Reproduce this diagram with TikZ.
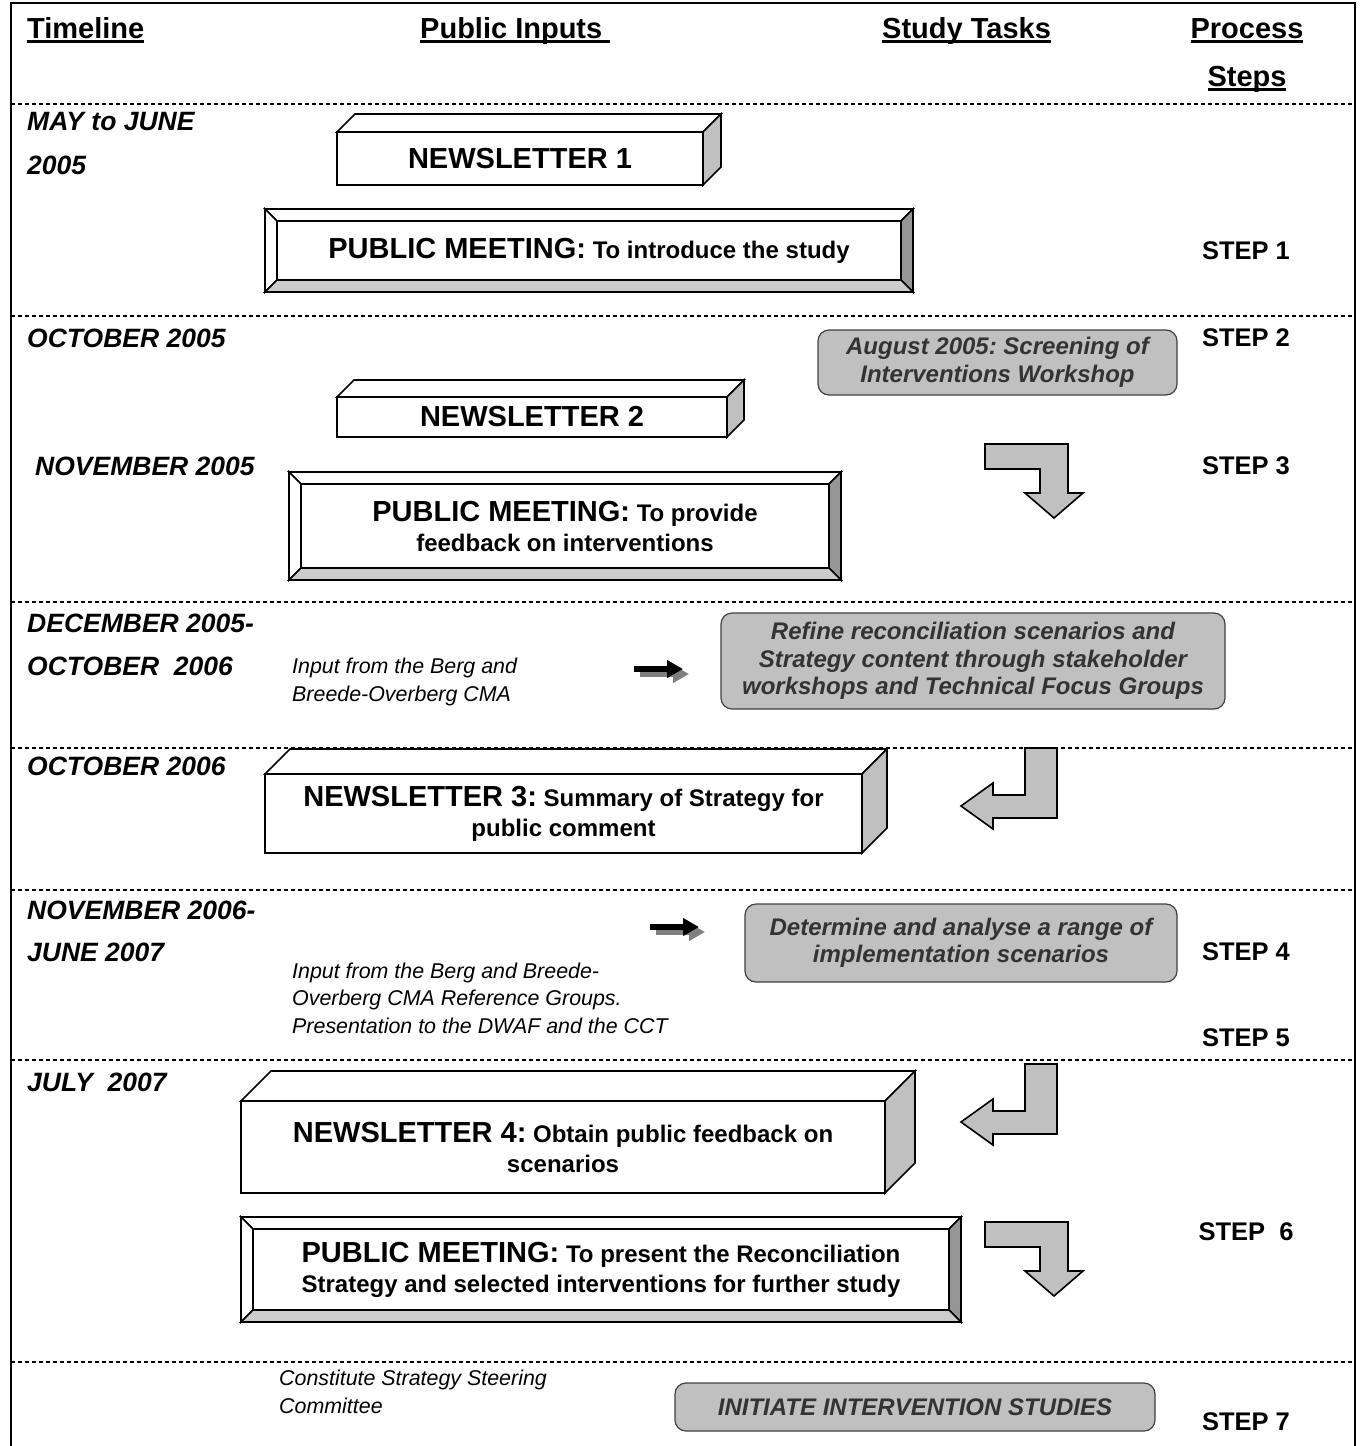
\documentclass[tikz,border=0pt]{standalone}
\usepackage{fontspec}
\setmainfont{Liberation Sans}
\usepackage{tikz}
\usetikzlibrary{arrows.meta,calc}
\definecolor{facegrey}{RGB}{192,192,192}
\definecolor{bevdark}{RGB}{150,150,150}
\definecolor{bevlight}{RGB}{204,204,204}
\definecolor{boxtext}{RGB}{51,51,51}
\definecolor{boxline}{RGB}{64,64,64}
\definecolor{shadowgrey}{RGB}{128,128,128}
\frenchspacing

\newcommand{\ulbold}[1]{\setbox0\hbox{#1}\rlap{\rule[-5pt]{\wd0}{2.6pt}}\box0}
\newcommand{\headpart}[1]{{\fontsize{29}{31}\selectfont #1}}

% top and side faces of a newsletter box: node, depth
\newcommand{\cubefaces}[2]{%
  \draw[outl, fill=white] (#1.north west) -- ++(#2,-#2) -- ([shift={(#2,-#2)}]#1.north east) -- (#1.north east) -- cycle;
  \draw[outl, fill=facegrey] (#1.north east) -- ([shift={(#2,-#2)}]#1.north east) -- ([shift={(#2,-#2)}]#1.south east) -- (#1.south east) -- cycle;
}
% bevelled frame of a meeting box: node, bevel width
\newcommand{\bevelfaces}[2]{%
  \coordinate (#1-inw) at ([shift={(#2,#2)}]#1.north west);
  \coordinate (#1-ine) at ([shift={(-#2,#2)}]#1.north east);
  \coordinate (#1-ise) at ([shift={(-#2,-#2)}]#1.south east);
  \coordinate (#1-isw) at ([shift={(#2,-#2)}]#1.south west);
  \draw[outl, fill=white] (#1.north west) -- (#1.north east) -- (#1-ine) -- (#1-inw) -- cycle;
  \draw[outl, fill=white] (#1.north west) -- (#1-inw) -- (#1-isw) -- (#1.south west) -- cycle;
  \draw[outl, fill=bevdark] (#1.north east) -- (#1.south east) -- (#1-ise) -- (#1-ine) -- cycle;
  \draw[outl, fill=bevlight] (#1.south west) -- (#1-isw) -- (#1-ise) -- (#1.south east) -- cycle;
}

\begin{document}
\begin{tikzpicture}[x=1pt, y=-1pt,
    outl/.style={line width=1.6pt, line join=miter},
    sep/.style={line width=2pt, dash pattern=on 4pt off 3pt},
    hdr/.style={font=\fontsize{29}{34}\selectfont\bfseries, inner sep=0, anchor=base west},
    when/.style={font=\fontsize{26.5}{30}\selectfont\bfseries\itshape, inner sep=0, anchor=west},
    stepno/.style={font=\fontsize{25.5}{30}\selectfont\bfseries, inner sep=0},
    news/.style={draw, outl, fill=white, outer sep=0, inner sep=0, align=center,
                 font=\fontsize{24}{30}\selectfont\bfseries},
    task/.style={draw=boxline, line width=1.2pt, fill=facegrey, rounded corners=11pt, text=boxtext,
                 outer sep=0, inner sep=0, align=center, font=\fontsize{24}{27.5}\selectfont\bfseries\itshape},
    note/.style={font=\fontsize{21.4}{27.5}\selectfont\itshape, align=left, inner sep=0, anchor=west},
    bent/.style={outl, fill=facegrey},
    pointer/.style={line width=5.5pt, -{Triangle[length=16pt,width=17pt]}}
]
\useasboundingbox (0,0) rectangle (1360,1446);

% frame and row separators
\draw[line width=2.6pt] (11,1446) -- (11,3) -- (1355,3) -- (1355,1446);
\foreach \yy in {104,316,602,748,890,1060,1362}
  \draw[sep] (11,\yy) -- (1355,\yy);

% column heads
\node[hdr] (hTime) at (27,38) {\ulbold{Timeline}};
\node[hdr] (hInput) at (420,38) {\ulbold{Public Inputs\ }};
\node[hdr] (hTask) at (882,38) {\ulbold{Study Tasks}};
\node[hdr, anchor=base] (hProc) at (1247,38) {\ulbold{Process}};
\node[hdr, anchor=base] (hStep) at (1247,86) {\ulbold{Steps}};

% timeline
\node[when] (t1a) at (27,122) {MAY to JUNE};
\node[when] (t1b) at (27,165) {2005};
\node[when] (t2) at (27,338) {OCTOBER 2005};
\node[when] (t3) at (35,466) {NOVEMBER 2005};
\node[when] (t4a) at (27,623) {DECEMBER 2005-};
\node[when] (t4b) at (27,666) {OCTOBER\ \ 2006};
\node[when] (t5) at (27,766) {OCTOBER 2006};
\node[when] (t6a) at (27,910) {NOVEMBER 2006-};
\node[when] (t6b) at (27,952) {JUNE 2007};
\node[when] (t7) at (27,1082) {JULY\ \ 2007};

% process steps
\node[stepno] (s1) at (1246,251) {STEP 1};
\node[stepno] (s2) at (1246,338) {STEP 2};
\node[stepno] (s3) at (1246,466) {STEP 3};
\node[stepno] (s4) at (1246,952) {STEP 4};
\node[stepno] (s5) at (1246,1038) {STEP 5};
\node[stepno] (s6) at (1246,1232) {STEP\ \ 6};
\node[stepno] (s7) at (1246,1422) {STEP 7};

% public inputs
\node[news, minimum width=366, minimum height=53] (nl1) at (520,158.5) {\headpart{NEWSLETTER 1}};
\cubefaces{nl1}{18}
\node[news, minimum width=648, minimum height=83] (pm1) at (589,250.5) {\headpart{PUBLIC MEETING:} To introduce the study};
\bevelfaces{pm1}{12}
\node[news, minimum width=390, minimum height=40] (nl2) at (532,417) {\headpart{NEWSLETTER 2}};
\cubefaces{nl2}{17}
\node[news, minimum width=552, minimum height=108] (pm2) at (565,526) {\headpart{PUBLIC MEETING:} To provide\\feedback on interventions};
\bevelfaces{pm2}{12}
\node[news, minimum width=597, minimum height=79] (nl3) at (563.5,813.5) {\headpart{NEWSLETTER 3:} Summary of Strategy for\\public comment};
\cubefaces{nl3}{25}
\node[news, minimum width=644, minimum height=92] (nl4) at (563,1147) {\headpart{NEWSLETTER 4:} Obtain public feedback on\\scenarios};
\cubefaces{nl4}{30}
\node[news, minimum width=720, minimum height=105] (pm3) at (601,1269.5) {\headpart{PUBLIC MEETING:} To present the Reconciliation\\Strategy and selected interventions for further study};
\bevelfaces{pm3}{12}

\node[note] (in1) at (292,682) {Input from the Berg and\\Breede-Overberg CMA};
\node[note] (in2) at (292,998) {Input from the Berg and Breede-\\Overberg CMA Reference Groups.\\Presentation to the DWAF and the CCT};
\node[note] (in3) at (279,1392) {Constitute Strategy Steering\\Committee};

% study tasks
\node[task, minimum width=359, minimum height=65] (tk1) at (997.5,362.5) {August 2005: Screening of\\Interventions Workshop};
\node[task, minimum width=504, minimum height=96] (tk2) at (973,661) {Refine reconciliation scenarios and\\Strategy content through stakeholder\\workshops and Technical Focus Groups};
\node[task, minimum width=432, minimum height=78] (tk3) at (961,943) {Determine and analyse a range of\\implementation scenarios};
\node[task, minimum width=480, minimum height=48] (tk4) at (915,1407) {INITIATE INTERVENTION STUDIES};

% small pointers with shadow
\coordinate (p1s) at (634,669);
\coordinate (p1e) at (683,669);
\coordinate (p2s) at (650,927);
\coordinate (p2e) at (699,927);
\draw[pointer, shadowgrey] ([shift={(6,5)}]p1s) -- ([shift={(6,5)}]p1e);
\draw[pointer] (p1s) -- (p1e);
\draw[pointer, shadowgrey] ([shift={(6,5)}]p2s) -- ([shift={(6,5)}]p2e);
\draw[pointer] (p2s) -- (p2e);

% bent block arrows
\draw[bent] (985,444) -- (1068,444) -- (1068,493) -- (1083,493) -- (1054,518) -- (1025,493) -- (1040,493) -- (1040,469) -- (985,469) -- cycle;
\draw[bent] (985,1222) -- (1068,1222) -- (1068,1271) -- (1083,1271) -- (1054,1296) -- (1025,1271) -- (1040,1271) -- (1040,1247) -- (985,1247) -- cycle;
\draw[bent] (1025,748) -- (1057,748) -- (1057,818) -- (993,818) -- (993,829) -- (961,806) -- (993,783) -- (993,795) -- (1025,795) -- cycle;
\draw[bent] (1025,1064) -- (1057,1064) -- (1057,1134) -- (993,1134) -- (993,1145) -- (961,1122) -- (993,1099) -- (993,1111) -- (1025,1111) -- cycle;
\end{tikzpicture}
\end{document}
